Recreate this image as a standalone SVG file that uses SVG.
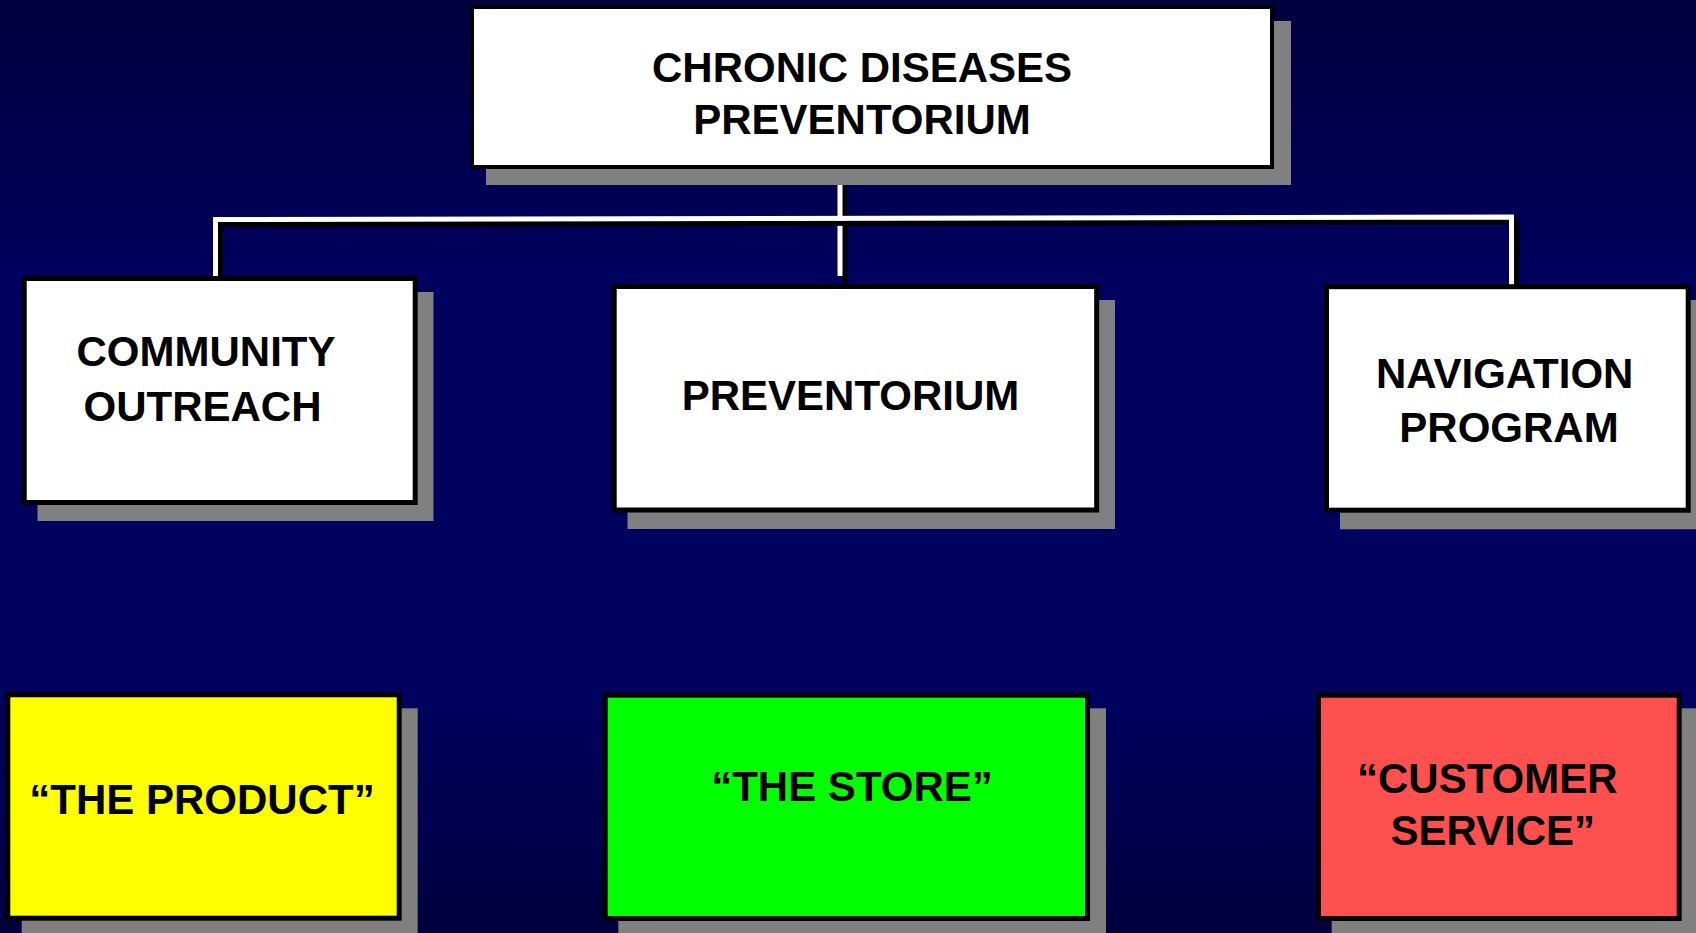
<svg xmlns="http://www.w3.org/2000/svg" width="1696" height="933" viewBox="0 0 1696 933">
  <defs>
    <linearGradient id="bg" x1="0" y1="0" x2="0" y2="1">
      <stop offset="0" stop-color="#00003E"/>
      <stop offset="0.3" stop-color="#00005E"/>
      <stop offset="0.75" stop-color="#00005E"/>
      <stop offset="1" stop-color="#00003E"/>
    </linearGradient>
  </defs>
  <style>
    .shadow { fill: #808080; }
    .box { stroke: #000000; stroke-width: 5; }
    .white { fill: #FFFFFF; }
    .label { font-family: "Liberation Sans", Arial, sans-serif; font-weight: bold; font-size: 42px; fill: #000000; text-anchor: middle; }
    .wire { fill: none; stroke: #FFFFFF; stroke-width: 5; }
    .wire-shadow { fill: none; stroke: #000000; stroke-width: 5; }
  </style>
  <rect x="0" y="0" width="1696" height="933" fill="url(#bg)"/>

  <g id="connectors">
    <path class="wire-shadow" d="M845,169 V282"/>
    <path class="wire" d="M840,169 V276"/>
    <path class="wire-shadow" d="M220.5,277 V224.5 L1517,222 V285"/>
    <path class="wire" d="M215.5,277 V219.5 L1511.5,217 V285"/>
  </g>

  <g id="node-top">
    <rect class="shadow" x="486" y="21" width="805" height="164"/>
    <rect class="white box" x="472" y="7" width="800" height="160" style="stroke-width:4"/>
    <text class="label" x="862" y="82">CHRONIC DISEASES</text>
    <text class="label" x="862" y="134">PREVENTORIUM</text>
  </g>

  <g id="node-community">
    <rect class="shadow" x="37.5" y="292" width="396" height="229"/>
    <rect class="white box" x="24.2" y="278.5" width="391" height="224"/>
    <text class="label" x="206" y="366">COMMUNITY</text>
    <text class="label" x="202.5" y="421">OUTREACH</text>
  </g>

  <g id="node-preventorium">
    <rect class="shadow" x="627.5" y="300" width="487.5" height="229"/>
    <rect class="white box" x="614.2" y="286.5" width="482.5" height="223.5"/>
    <text class="label" x="850.5" y="410">PREVENTORIUM</text>
  </g>

  <g id="node-navigation">
    <rect class="shadow" x="1340" y="300" width="380" height="229.3"/>
    <rect class="white box" x="1326.5" y="286.7" width="361.7" height="223.5"/>
    <text class="label" x="1504.7" y="388">NAVIGATION</text>
    <text class="label" x="1509" y="441.5">PROGRAM</text>
  </g>

  <g id="node-product">
    <rect class="shadow" x="21.7" y="708.3" width="396" height="240"/>
    <rect class="box" x="7.8" y="694.8" width="391.4" height="223.4" fill="#FFFF00"/>
    <text class="label" x="202" y="814.3">“THE PRODUCT”</text>
  </g>

  <g id="node-store">
    <rect class="shadow" x="618.3" y="708.3" width="487.7" height="240"/>
    <rect class="box" x="605.2" y="695.2" width="482.3" height="223.3" fill="#00FF00"/>
    <text class="label" x="852" y="801">“THE STORE”</text>
  </g>

  <g id="node-customer">
    <rect class="shadow" x="1331.7" y="708.3" width="380" height="240"/>
    <rect class="box" x="1318.5" y="695.2" width="360.7" height="223.3" fill="#FF5050"/>
    <text class="label" x="1487.3" y="793.3">“CUSTOMER</text>
    <text class="label" x="1492.8" y="845">SERVICE”</text>
  </g>
</svg>
